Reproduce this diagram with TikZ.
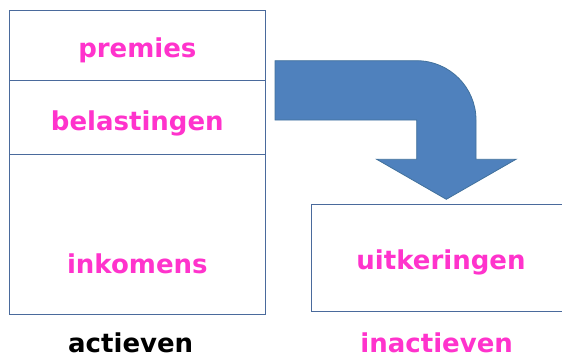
\documentclass[tikz,border=0pt]{standalone}
\usepackage{fontspec}
\setmainfont{DejaVu Sans}
\definecolor{boxline}{HTML}{4A6A9C}
\definecolor{pinktxt}{HTML}{FF33CC}
\definecolor{arrowfill}{HTML}{4F81BD}
\definecolor{arrowline}{HTML}{41719C}
\tikzset{
  cell/.style={draw=boxline, line width=1pt, rectangle, inner sep=0pt, minimum width=256.7pt},
  lbl/.style={anchor=base, inner sep=0pt, text=pinktxt, font=\fontsize{26}{30}\selectfont\bfseries},
}
\begin{document}
\begin{tikzpicture}[x=1pt, y=-1pt]
\useasboundingbox (0,0) rectangle (562,356);
\clip (0,0) rectangle (562,356);
% left column
\node[cell, minimum height=70pt] (premiesbox) at (137.35,45.7) {};
\node[cell, minimum height=74pt] (belastbox) at (137.35,117.7) {};
\node[cell, minimum height=160pt] (inkbox) at (137.35,234.7) {};
% right box (cut off at the page edge)
\node[draw=boxline, line width=1pt, rectangle, inner sep=0pt, minimum width=280pt, minimum height=106.7pt] (uitbox) at (451.7,257.65) {};
% arrow
\path[fill=arrowfill, draw=arrowline, line width=0.8pt]
  (275,60.7) -- (416.7,60.7)
  .. controls (449.4,60.7) and (476,87.3) .. (476,120)
  -- (476,159.3) -- (516,159.3) -- (446.3,199.3) -- (376.7,159.3)
  -- (416.7,159.3) -- (416.7,120) -- (275,120) -- cycle;
% texts
\node[lbl] (premies) at (137.35,57) {premies};
\node[lbl] (belastingen) at (137.35,130) {belastingen};
\node[lbl] (inkomens) at (137.35,273) {inkomens};
\node[lbl] (uitkeringen) at (441,269) {uitkeringen};
\node[lbl, text=black, text depth=0pt] (actieven) at (130.7,352) {actieven};
\node[lbl, text depth=0pt] (inactieven) at (436.7,352) {inactieven};
\end{tikzpicture}
\end{document}
